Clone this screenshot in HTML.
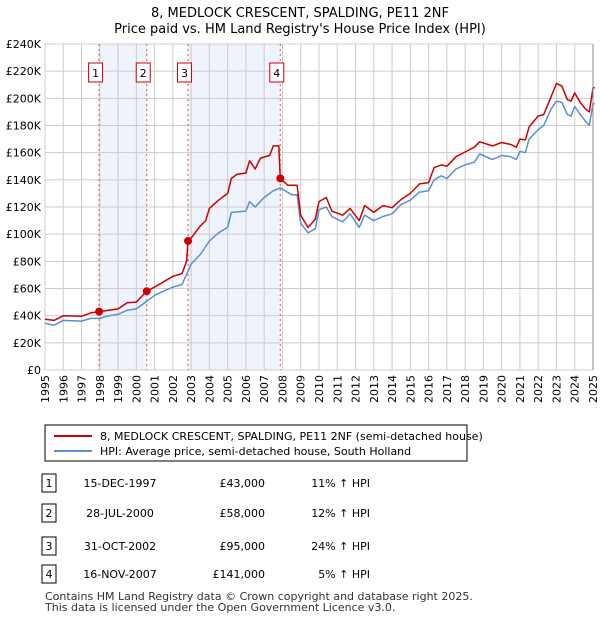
<!DOCTYPE html>
<html><head><meta charset="utf-8"><style>
body{margin:0;width:600px;height:620px;background:#fff;font-family:"Liberation Sans","DejaVu Sans",sans-serif;overflow:hidden}
svg{display:block}
</style></head><body>
<svg id="c" width="600" height="620" font-family="DejaVu Sans, Liberation Sans, sans-serif">
<text x="300" y="17" text-anchor="middle" font-size="13">8, MEDLOCK CRESCENT, SPALDING, PE11 2NF</text>
<text x="300" y="33" text-anchor="middle" font-size="13">Price paid vs. HM Land Registry's House Price Index (HPI)</text>
<g id="plot"></g>
<g>
<rect x="45" y="425" width="422" height="36" fill="#fff" stroke="#000" stroke-width="1"/>
<line x1="54" y1="436" x2="92" y2="436" stroke="#cc0000" stroke-width="2"/>
<text x="100" y="440" font-size="11">8, MEDLOCK CRESCENT, SPALDING, PE11 2NF (semi-detached house)</text>
<line x1="54" y1="451" x2="92" y2="451" stroke="#5b8fd4" stroke-width="2"/>
<text x="100" y="455" font-size="11">HPI: Average price, semi-detached house, South Holland</text>
</g>
<g id="tbl" font-size="11"></g>
<text x="45" y="600" font-size="11" fill="#333">Contains HM Land Registry data © Crown copyright and database right 2025.</text>
<text x="45" y="611" font-size="11" fill="#333">This data is licensed under the Open Government Licence v3.0.</text>
</svg>
<script>
const yTicks=[0,20,40,60,80,100,120,140,160,180,200,220,240];
const years=[1995,1996,1997,1998,1999,2000,2001,2002,2003,2004,2005,2006,2007,2008,2009,2010,2011,2012,2013,2014,2015,2016,2017,2018,2019,2020,2021,2022,2023,2024,2025];
const hpiT=[1995,1995.5,1996,1997,1997.5,1998,1998.5,1999,1999.5,2000,2000.5,2001,2001.5,2002,2002.5,2003,2003.5,2004,2004.5,2005,2005.2,2006,2006.2,2006.5,2007,2007.5,2007.9,2008.5,2008.8,2009,2009.4,2009.8,2010,2010.4,2010.7,2011.3,2011.7,2012.2,2012.5,2013,2013.5,2014,2014.5,2015,2015.5,2016,2016.3,2016.7,2017,2017.5,2018,2018.5,2018.8,2019.5,2020,2020.5,2020.8,2021,2021.3,2021.5,2022,2022.3,2022.7,2023,2023.3,2023.6,2023.8,2024,2024.3,2024.6,2024.8,2025,2025.1];
const hpiV=[34.4,33,36.5,36,38,38,40,41,44,45,50,55,58,61,63,78,85,95,101,105,116,117,124,120,127,132,134,129,129,108,101,104,118,120,113,109,115,105,114,110,113,115,122,125,131,132,140,143,141,148,151,153,159,155,158,157,155,161,160,170,177,180,192,198,197,188,187,194,188,183,180,196,196];
const redT=[1995,1995.5,1996,1997,1997.5,1997.96,1998.5,1999,1999.5,2000,2000.57,2001,2001.5,2002,2002.5,2002.75,2002.83,2003,2003.5,2003.8,2004,2004.5,2005,2005.2,2005.5,2006,2006.2,2006.5,2006.8,2007.3,2007.5,2007.8,2007.88,2008.3,2008.8,2009,2009.4,2009.8,2010,2010.4,2010.7,2011.3,2011.7,2012.2,2012.5,2013,2013.5,2014,2014.5,2015,2015.5,2016,2016.3,2016.7,2017,2017.5,2018,2018.5,2018.8,2019.5,2020,2020.5,2020.8,2021,2021.3,2021.5,2022,2022.3,2022.7,2023,2023.3,2023.6,2023.8,2024,2024.3,2024.6,2024.8,2025,2025.1];
const redV=[37.3,36.5,40,39.5,42,43,44,45,49.5,50,58,61,65,69,71,80,95,97,106,110,119,125,130,141,144,145,154,148,156,158,165,165,141,136,136,114,105,111,124,127,117,114,119,110,121,116,121,119.5,125.5,130,137,138,149,151,150,157,160.5,164,168,165,167.5,166,164,170,169.5,179,187,188,201,211,209,199,198,204,197,192,190,207.5,208];
const saleLabels=["1","2","3","4"];
const saleT=[1997.96,2000.57,2002.83,2007.88];
const saleV=[43,58,95,141];
const saleDates=["15-DEC-1997","28-JUL-2000","31-OCT-2002","16-NOV-2007"];
const salePrices=["£43,000","£58,000","£95,000","£141,000"];
const salePct=["11% ↑ HPI","12% ↑ HPI","24% ↑ HPI","5% ↑ HPI"];
const X0=45,X1=593,Y0=370,Y1=44;
const xs=t=>X0+(t-1995)/30*(X1-X0);
const ys=v=>Y0-v/240*(Y0-Y1);
const NS="http://www.w3.org/2000/svg";
function mk(p,tag,at){const e=document.createElementNS(NS,tag);for(const k in at)e.setAttribute(k,at[k]);p.appendChild(e);return e;}
const g=document.getElementById('plot');
for(let i=0;i<2;i++){const a=xs(saleT[i*2]),b=xs(saleT[i*2+1]);
const r=mk(g,'rect',{x:a,y:Y1,width:b-a,height:Y0-Y1,fill:'#eef3fc'});

}
years.forEach(y=>{const l=mk(g,'line',{x1:xs(y),x2:xs(y),y1:Y1,y2:Y0,stroke:'#cccccc','stroke-width':1});


const t=mk(g,'text',{x:0,y:0,'font-size':11,'text-anchor':'end',transform:`translate(${xs(y)+4},${Y0+5}) rotate(-90)`});
t.textContent=y;

});
yTicks.forEach(v=>{const l=mk(g,'line',{x1:X0,x2:X1,y1:ys(v),y2:ys(v),stroke:'#cccccc','stroke-width':1});


const t=mk(g,'text',{x:X0-4,y:ys(v)+4,'font-size':11,'text-anchor':'end'});
t.textContent=v===0?'£0':'£'+v+'K';

});
saleT.forEach((t,i)=>{const l=mk(g,'line',{x1:xs(t),x2:xs(t),y1:Y1,y2:Y0,stroke:'#e05050','stroke-width':1,'stroke-dasharray':'2,3'});


const cx=xs(t)-3.5;
const bx=mk(g,'rect',{x:cx-7,y:63,width:14,height:19,fill:'#fff',stroke:'#cc0000','stroke-width':1});


const tx=mk(g,'text',{x:cx,y:77,'font-size':11,'text-anchor':'middle'});
tx.textContent=saleLabels[i];

});
const line=(T,V,c,n)=>{const p=mk(g,'path',{d:T.map((t,i)=>(i?'L':'M')+xs(t).toFixed(1)+','+ys(V[i]).toFixed(1)).join(''),fill:'none',stroke:c,'stroke-width':1.5,'stroke-linejoin':'round'});

};
line(hpiT,hpiV,'#5b8fd4','hpi-line');
line(redT,redV,'#cc0000','property-price-line');
saleT.forEach((t,i)=>{const c=mk(g,'circle',{cx:xs(t),cy:ys(saleV[i]),r:4,fill:'#cc0000'});

});
const ax=mk(g,'line',{x1:X1,x2:X1,y1:Y1,y2:Y0,stroke:'#888','stroke-width':1});


const tb=document.getElementById('tbl');
const rowY=[483,513,546,574];
rowY.forEach((y,i)=>{const b=mk(tb,'rect',{x:42,y:y-9,width:14,height:18,fill:'#fff',stroke:'#000','stroke-width':1});


const vals=[[saleLabels[i],49,'middle'],[saleDates[i],120,'middle'],[salePrices[i],265,'end'],[salePct[i],370,'end']];
vals.forEach(([s,x,a],j)=>{const t=mk(tb,'text',{x:x,y:y+4,'text-anchor':a});
t.textContent=s;

});});
</script>
</body></html>
